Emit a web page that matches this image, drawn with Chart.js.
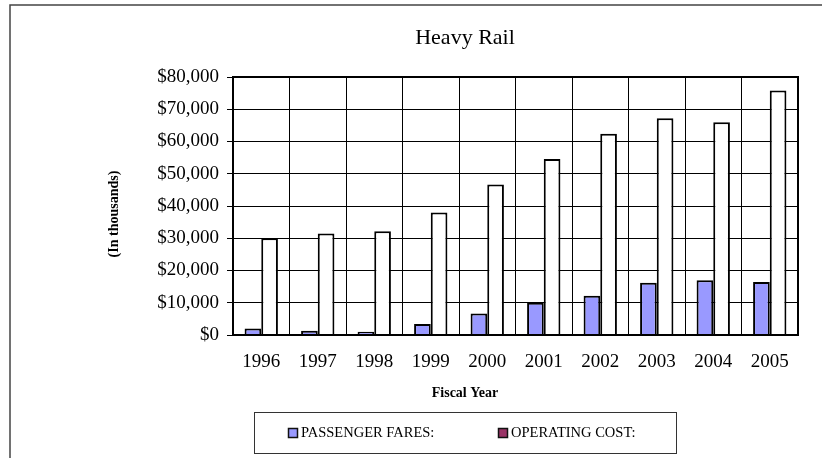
<!DOCTYPE html>
<html>
<head>
<meta charset="utf-8">
<title>Heavy Rail</title>
<script src="https://cdn.jsdelivr.net/npm/chart.js@4"></script>
<style>
  html, body { margin: 0; padding: 0; background: #fff; }
  canvas { display: block; }
</style>
</head>
<body>
<canvas id="railChart" width="822" height="458"></canvas>
<script>
// fiscal years and amounts (in thousands of dollars)
const years = ['1996', '1997', '1998', '1999', '2000', '2001', '2002', '2003', '2004', '2005'];
const passengerFares = [2000, 1300, 1000, 3400, 6700, 10000, 12200, 16200, 17000, 16400];
const operatingCost = [30000, 31500, 32200, 38000, 46700, 54600, 62400, 67200, 66000, 75800];
const seriesNames = ['PASSENGER FARES:', 'OPERATING COST:'];
const yMin = 0;
const yMax = 80000;
const yStep = 10000;

const SERIF = '"Liberation Serif", "Times New Roman", serif';
const MID_X = 465;                // centre line used by title, x title and legend
const swatchColors = ['#9999FF', '#993366'];

function money(v) {
  return '$' + v.toLocaleString('en-US');
}

// frame, plot border, axis titles and the boxed legend
const excelFrame = {
  id: 'excelFrame',
  afterLayout(chart) {
    // centre the chart title on the frame rather than the canvas
    const t = chart.titleBlock;
    if (t) {
      t.left = MID_X - 211;
      t.right = MID_X + 211;
      t.width = 422;
    }
  },
  afterDatasetsDraw(chart) {
    const ctx = chart.ctx;
    const a = chart.chartArea;
    ctx.save();

    // outer frame (runs off the right and bottom edges)
    ctx.strokeStyle = '#444';
    ctx.lineWidth = 1.5;
    ctx.beginPath();
    ctx.moveTo(10, chart.height);
    ctx.lineTo(10, 5);
    ctx.lineTo(chart.width, 5);
    ctx.stroke();

    // plot area border
    ctx.strokeStyle = '#000';
    ctx.lineWidth = 2;
    ctx.strokeRect(a.left, a.top, a.right - a.left, a.bottom - a.top);

    // axis titles
    ctx.fillStyle = '#000';
    ctx.font = 'bold 14px ' + SERIF;
    ctx.textAlign = 'center';
    ctx.textBaseline = 'middle';
    ctx.fillText('Fiscal Year', MID_X, 393);
    ctx.save();
    ctx.translate(114, 214);
    ctx.rotate(-Math.PI / 2);
    ctx.fillText('(In thousands)', 0, 0);
    ctx.restore();

    // legend box
    ctx.strokeStyle = '#333';
    ctx.lineWidth = 1;
    ctx.strokeRect(254.5, 412.5, 422, 41);

    ctx.font = '14.5px ' + SERIF;
    ctx.textAlign = 'left';
    const itemX = [288, 498];
    chart.data.datasets.forEach((ds, i) => {
      const x = itemX[i];
      ctx.fillStyle = swatchColors[i];
      ctx.fillRect(x, 428, 10, 10);
      ctx.strokeStyle = '#111';
      ctx.lineWidth = 1.5;
      ctx.strokeRect(x + 0.5, 428.5, 9, 9);
      ctx.fillStyle = '#000';
      ctx.fillText(ds.label, x + 13, 433.5);
    });

    ctx.restore();
  }
};

const ctx = document.getElementById('railChart').getContext('2d');
new Chart(ctx, {
  type: 'bar',
  data: {
    labels: years,
    datasets: [
      {
        label: seriesNames[0],
        data: passengerFares,
        backgroundColor: '#9999FF',
        borderColor: '#000',
        borderWidth: 2
      },
      {
        label: seriesNames[1],
        data: operatingCost,
        backgroundColor: '#FFFFFF',
        borderColor: '#000',
        borderWidth: 2
      }
    ]
  },
  options: {
    responsive: false,
    animation: false,
    devicePixelRatio: 1,
    layout: { padding: { left: 133, right: 24, top: 0, bottom: 0 } },
    datasets: {
      bar: { categoryPercentage: 0.59, barPercentage: 1.0 }
    },
    plugins: {
      legend: { display: false },
      tooltip: { enabled: false },
      title: {
        display: true,
        text: 'Heavy Rail',
        color: '#000',
        font: { family: SERIF, size: 22, weight: 'normal' },
        padding: { top: 25, bottom: 25.6 }
      }
    },
    scales: {
      x: {
        grid: { color: '#000', lineWidth: 1, drawTicks: false, offset: true },
        border: { color: '#000', width: 2 },
        ticks: {
          color: '#000',
          font: { family: SERIF, size: 19 },
          padding: 16,
          maxRotation: 0
        },
        afterFit(scale) { scale.height = 123; }
      },
      y: {
        min: yMin,
        max: yMax,
        grid: { color: '#000', lineWidth: 1, tickLength: 6 },
        border: { color: '#000', width: 2 },
        ticks: {
          stepSize: yStep,
          color: '#000',
          font: { family: SERIF, size: 19 },
          padding: 8,
          callback: (v) => money(v)
        },
        afterFit(scale) { scale.width = 100; }
      }
    }
  },
  plugins: [excelFrame]
});
</script>
</body>
</html>
